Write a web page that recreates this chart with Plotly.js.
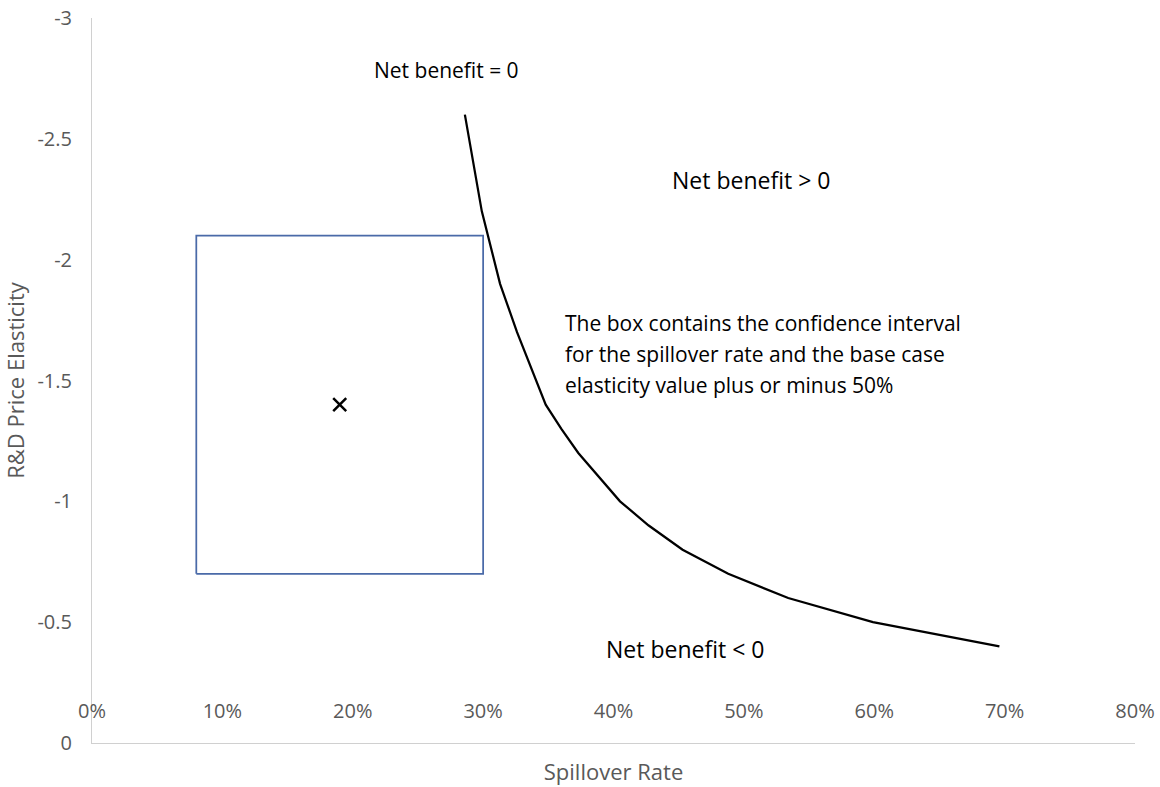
<!DOCTYPE html>
<html>
<head>
<meta charset="utf-8">
<script src="https://cdn.plot.ly/plotly-3.0.1.min.js"></script>
<style>html,body{margin:0;padding:0;background:#fff;}#chart{width:1160px;height:787px;}</style>
</head>
<body>
<div id="chart"></div>
<script>
// Break-even curve (Net benefit = 0): spillover rate vs R&D price elasticity
const spilloverRate = [0.286, 0.299, 0.313, 0.326, 0.348, 0.360, 0.373, 0.405, 0.427, 0.453, 0.488, 0.534, 0.599, 0.696];
const elasticity    = [-2.6, -2.2, -1.9, -1.7, -1.4, -1.3, -1.2, -1.0, -0.9, -0.8, -0.7, -0.6, -0.5, -0.4];

// Base case point
const baseSpillover = [0.19];
const baseElasticity = [-1.4];

// Box: confidence interval for spillover rate, elasticity +/- 50%
const boxSpillover = [0.08, 0.30];
const boxElasticity = [-0.7, -2.1];

// Axis ticks
const xTickVals = [0, 0.1, 0.2, 0.3, 0.4, 0.5, 0.6, 0.7, 0.8];
const xTickText = ['0%', '10%', '20%', '30%', '40%', '50%', '60%', '70%', '80%'];
const yTickVals = [-3, -2.5, -2, -1.5, -1, -0.5, 0];
const yTickText = ['-3', '-2.5', '-2', '-1.5', '-1', '-0.5', '0'];

// Text labels
const labelZero = 'Net benefit = 0';
const labelPos = 'Net benefit > 0';
const labelNeg = 'Net benefit < 0';
const boxNote = ['The box contains the confidence interval', 'for the spillover rate and the base case', 'elasticity value plus or minus 50%'];

const FONT = 'Open Sans, Lato, sans-serif';
const GRAY = '#595959';

const boxX = [boxSpillover[0], boxSpillover[1], boxSpillover[1], boxSpillover[0], boxSpillover[0]];
const boxY = [boxElasticity[0], boxElasticity[0], boxElasticity[1], boxElasticity[1], boxElasticity[0]];

const traces = [
  { x: boxX, y: boxY, xaxis: 'x2', yaxis: 'y', mode: 'lines', line: {color: '#4a6aa8', width: 1.75}, hoverinfo: 'skip', showlegend: false },
  { x: spilloverRate, y: elasticity, mode: 'lines', line: {color: '#000000', width: 2.25}, showlegend: false },
  { x: baseSpillover, y: baseElasticity, mode: 'markers', marker: {symbol: 'x-thin', size: 13, line: {color: '#000000', width: 2.5}, color: '#000000'}, showlegend: false }
];

const noteYs = [-1.738, -1.610, -1.481];
const annotations = [
  { x: 0.2722, y: -2.785, xref: 'x', yref: 'y', text: labelZero, showarrow: false, font: {family: FONT, size: 21, color: '#000'} },
  { x: 0.5054, y: -2.330, xref: 'x', yref: 'y', text: labelPos, showarrow: false, font: {family: FONT, size: 23, color: '#000'} },
  { x: 0.4548, y: -0.389, xref: 'x', yref: 'y', text: labelNeg, showarrow: false, font: {family: FONT, size: 23, color: '#000'} }
].concat(boxNote.map((t, i) => ({ x: 0.3612, y: noteYs[i], xref: 'x', yref: 'y', xanchor: 'left', text: t, showarrow: false, font: {family: FONT, size: 21, color: '#000'} })));

const layout = {
  width: 1160, height: 787,
  margin: {l: 92, r: 25, t: 18, b: 44},
  paper_bgcolor: '#ffffff', plot_bgcolor: '#ffffff',
  font: {family: FONT, color: GRAY},
  showlegend: false,
  xaxis: {
    range: [0, 0.8], showgrid: false, zeroline: false, showline: true, linecolor: '#d0d0d0', linewidth: 1,
    showticklabels: false, ticks: '',
    title: {text: 'Spillover Rate', font: {family: FONT, size: 22, color: GRAY}, standoff: 21}
  },
  xaxis2: {
    overlaying: 'x', anchor: 'free', position: 0.063, range: [0, 0.8],
    showgrid: false, zeroline: false, showline: false, ticks: '',
    tickvals: xTickVals, ticktext: xTickText, tickfont: {family: FONT, size: 20, color: GRAY}
  },
  yaxis: {
    range: [0, -3], showgrid: false, zeroline: false, showline: true, linecolor: '#d0d0d0', linewidth: 1,
    ticks: '', tickvals: yTickVals, ticktext: yTickText, tickfont: {family: FONT, size: 20, color: GRAY},
    ticklabelstandoff: 15,
    title: {text: 'R&D Price Elasticity', font: {family: FONT, size: 22, color: GRAY}, standoff: 6}
  },
  annotations: annotations
};

Plotly.newPlot('chart', traces, layout, {displayModeBar: false, staticPlot: true});
</script>
</body>
</html>
